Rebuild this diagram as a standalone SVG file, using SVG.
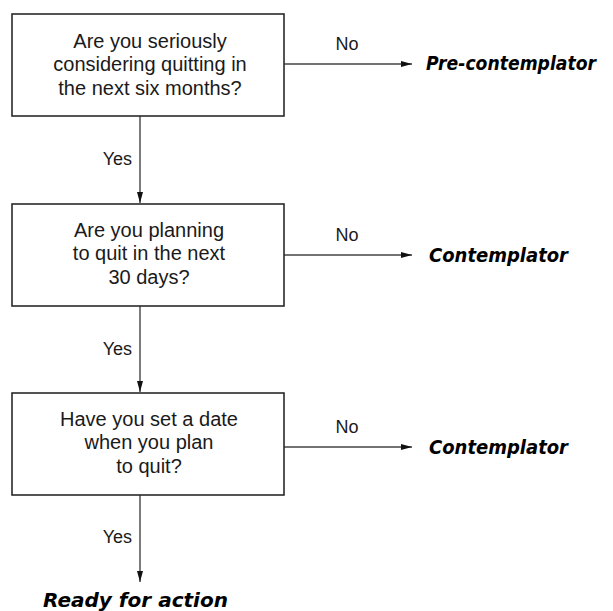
<svg xmlns="http://www.w3.org/2000/svg" width="613" height="611" viewBox="0 0 613 611">
<style>
.box{fill:#fff;stroke:#2a2a2a;stroke-width:1.6}
.q{font-family:"Liberation Sans",Arial,sans-serif;font-size:20px;fill:#1a1a1a;text-anchor:middle}
.lbl{font-family:"Liberation Sans",Arial,sans-serif;font-size:18px;fill:#1a1a1a}
.out{font-family:"DejaVu Sans",sans-serif;font-size:19px;font-weight:bold;font-style:italic;fill:#000}
.ln{stroke:#444;stroke-width:1.4;fill:none}
</style>
<defs>
<marker id="ah" viewBox="0 0 11 6" refX="11" refY="3" markerWidth="11" markerHeight="6" markerUnits="userSpaceOnUse" orient="auto">
<path d="M0,0 L11,3 L0,6 Z" fill="#111"/>
</marker>
</defs>
<g id="connectors">
<line class="ln" x1="140" y1="116" x2="140" y2="203" marker-end="url(#ah)"/>
<line class="ln" x1="140" y1="306" x2="140" y2="392" marker-end="url(#ah)"/>
<line class="ln" x1="140" y1="495" x2="140" y2="582" marker-end="url(#ah)"/>
<line class="ln" x1="284" y1="64" x2="412" y2="64" marker-end="url(#ah)"/>
<line class="ln" x1="284" y1="255" x2="412" y2="255" marker-end="url(#ah)"/>
<line class="ln" x1="284" y1="447" x2="412" y2="447" marker-end="url(#ah)"/>
<text class="lbl" x="132" y="165" text-anchor="end">Yes</text>
<text class="lbl" x="132" y="355" text-anchor="end">Yes</text>
<text class="lbl" x="132" y="543" text-anchor="end">Yes</text>
<text class="lbl" x="347" y="50" text-anchor="middle">No</text>
<text class="lbl" x="347" y="241" text-anchor="middle">No</text>
<text class="lbl" x="347" y="433" text-anchor="middle">No</text>
</g>
<g id="q1">
<rect class="box" x="12" y="14" width="272" height="102"/>
<text class="q" x="150" y="48">Are you seriously</text>
<text class="q" x="150" y="71">considering quitting in</text>
<text class="q" x="150" y="95">the next six months?</text>
</g>
<g id="q2">
<rect class="box" x="12" y="204" width="272" height="102"/>
<text class="q" x="149" y="237">Are you planning</text>
<text class="q" x="149" y="260">to quit in the next</text>
<text class="q" x="149" y="284">30 days?</text>
</g>
<g id="q3">
<rect class="box" x="12" y="393" width="272" height="102"/>
<text class="q" x="149" y="426">Have you set a date</text>
<text class="q" x="149" y="449">when you plan</text>
<text class="q" x="149" y="473">to quit?</text>
</g>
<g id="pre">
<text class="out" x="426" y="70" font-size="18" textLength="170" lengthAdjust="spacingAndGlyphs">Pre-contemplator</text>
</g>
<g id="cont1">
<text class="out" x="429" y="262" textLength="139" lengthAdjust="spacingAndGlyphs">Contemplator</text>
</g>
<g id="cont2">
<text class="out" x="429" y="454" textLength="139" lengthAdjust="spacingAndGlyphs">Contemplator</text>
</g>
<g id="ready">
<text class="out" x="43" y="607" textLength="185" lengthAdjust="spacingAndGlyphs">Ready for action</text>
</g>
</svg>
